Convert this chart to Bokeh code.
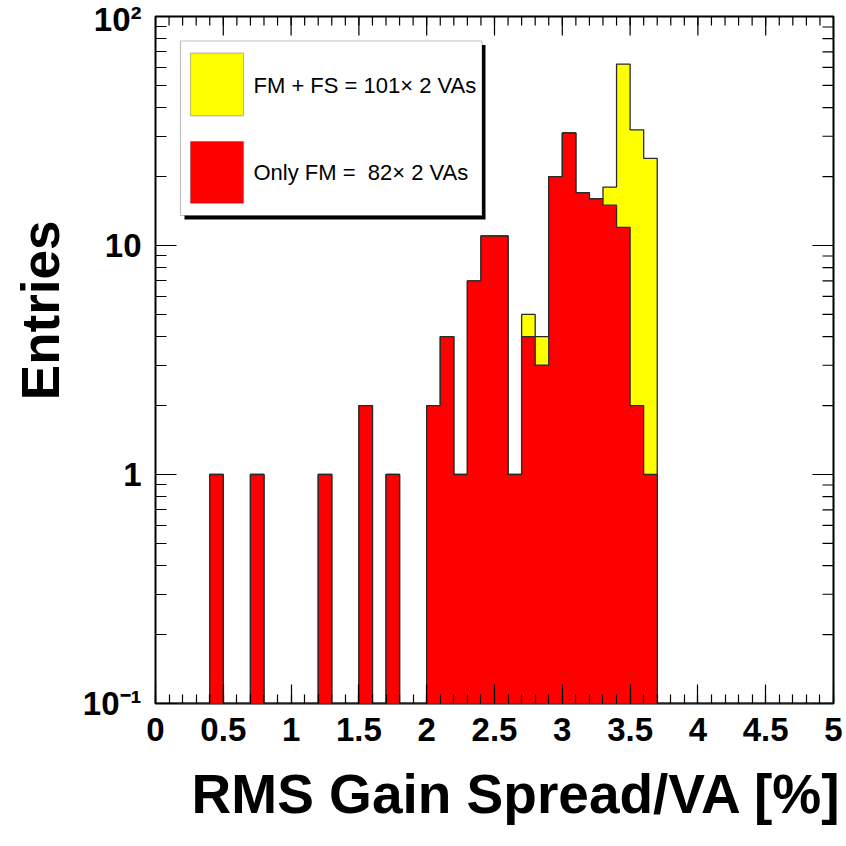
import math
from bokeh.plotting import figure
from bokeh.models import (FixedTicker, Range1d, Label, BoxAnnotation, CustomJSTickFormatter, Title)
from bokeh.embed import file_html
from bokeh.resources import INLINE

# ---------------- data ----------------
x_min, x_max = 0.0, 5.0
y_min, y_max = 0.1, 100.0
bin_width = 0.1
n_bins = 50

# Only FM (red), per 0.1-wide bin starting at 0.0
only_fm = [0, 0, 0, 0, 1, 0, 0, 1, 0, 0,
           0, 0, 1, 0, 0, 2, 0, 1, 0, 0,
           2, 4, 1, 7, 11, 11, 1, 4, 3, 20,
           31, 17, 16, 15, 12, 2, 1, 0, 0, 0,
           0, 0, 0, 0, 0, 0, 0, 0, 0, 0]
# FM + FS (yellow)
fm_fs = [0, 0, 0, 0, 1, 0, 0, 1, 0, 0,
         0, 0, 1, 0, 0, 2, 0, 1, 0, 0,
         2, 4, 1, 7, 11, 11, 1, 5, 4, 20,
         31, 17, 16, 18, 62, 32, 24, 0, 0, 0,
         0, 0, 0, 0, 0, 0, 0, 0, 0, 0]

x_tick_values = [0, 0.5, 1, 1.5, 2, 2.5, 3, 3.5, 4, 4.5, 5]
x_tick_labels = ["0", "0.5", "1", "1.5", "2", "2.5", "3", "3.5", "4", "4.5", "5"]
x_minor_values = [round(i * 0.1, 1) for i in range(51)]
y_tick_values = [0.1, 1, 10, 100]
y_tick_labels = ["10\u207b\u00b9", "1", "10", "10\u00b2"]
y_minor_values = [m * d for d in (0.1, 1, 10) for m in range(2, 10)]

legend_labels = ["FM + FS = 101\u00d7 2 VAs", "Only FM = \u00a082\u00d7 2 VAs"]
x_title = "RMS Gain Spread/VA [%]"
y_title = "Entries"

FONT = "Liberation Sans"
OUT_COL = "#2a2a2a"

# ---------------- layout helpers (reference pixel -> data) ----------------
FX0, FX1, FY0, FY1 = 155, 833, 16, 703
W = H = 846


def dx(px):
    return x_min + (px - FX0) / (FX1 - FX0) * (x_max - x_min)


def dy(py):
    lo, hi = math.log10(y_min), math.log10(y_max)
    return 10 ** (hi - (py - FY0) / (FY1 - FY0) * (hi - lo))


p = figure(frame_width=FX1 - FX0, frame_height=FY1 - FY0,
           x_range=Range1d(x_min, x_max), y_range=Range1d(y_min, y_max),
           y_axis_type="log", output_backend="svg", toolbar_location=None,
           min_border_left=FX0, min_border_top=FY0,
           min_border_right=W - FX1, min_border_bottom=H - FY1)
p.background_fill_color = "white"
p.border_fill_color = "white"
p.xgrid.visible = False
p.ygrid.visible = False
p.outline_line_color = "black"
p.outline_line_width = 2

edges = [x_min + i * bin_width for i in range(n_bins + 1)]


def step_path(counts):
    xs, ys = [edges[0]], [y_min]
    for i, c in enumerate(counts):
        y = c if c > 0 else y_min
        xs += [edges[i], edges[i + 1]]
        ys += [y, y]
    xs.append(edges[-1])
    ys.append(y_min)
    return xs, ys


for counts, col in ((fm_fs, "#ffff00"), (only_fm, "#ff0000")):
    xs, ys = step_path(counts)
    p.patch(xs, ys, fill_color=col, line_color=None)
    p.line(xs, ys, line_color=OUT_COL, line_width=1.3)


def lookup_fmt(vals, labs):
    return CustomJSTickFormatter(
        args=dict(vals=vals, labs=labs),
        code="const i = vals.findIndex(v => Math.abs(v - tick) <= 1e-9 * Math.max(1, Math.abs(v))); return i >= 0 ? labs[i] : '';")


def style_common(ax, maj, mnr):
    ax.axis_line_color = None
    ax.major_tick_in = maj
    ax.major_tick_out = 0
    ax.minor_tick_in = mnr
    ax.minor_tick_out = 0
    ax.major_tick_line_color = "black"
    ax.minor_tick_line_color = "black"
    ax.major_tick_line_width = 1.2
    ax.minor_tick_line_width = 1.2
    ax.major_label_text_font = FONT
    ax.major_label_text_font_style = "bold"
    ax.major_label_text_font_size = "33px"
    ax.major_label_text_color = "black"


# bottom axis
ax = p.xaxis[0]
ax.ticker = FixedTicker(ticks=x_tick_values, minor_ticks=x_minor_values)
ax.formatter = lookup_fmt(x_tick_values, x_tick_labels)
style_common(ax, 19, 9)
ax.major_label_standoff = 14

# left axis
ay = p.yaxis[0]
ay.ticker = FixedTicker(ticks=y_tick_values, minor_ticks=y_minor_values)
ay.formatter = lookup_fmt(y_tick_values, y_tick_labels)
style_common(ay, 21, 11)
ay.major_label_standoff = 14

# ---------------- ticks on top and right (drawn from tick values) ----------------
top_major_y = dy(FY0 + 19)
top_minor_y = dy(FY0 + 9)
p.segment(x0=x_tick_values, y0=[y_max] * len(x_tick_values),
          x1=x_tick_values, y1=[top_major_y] * len(x_tick_values),
          line_color="black", line_width=1.2)
p.segment(x0=x_minor_values, y0=[y_max] * len(x_minor_values),
          x1=x_minor_values, y1=[top_minor_y] * len(x_minor_values),
          line_color="black", line_width=1.2)
maj_x = dx(FX1 - 21)
min_x = dx(FX1 - 11)
p.segment(x0=[x_max] * len(y_tick_values), y0=y_tick_values,
          x1=[maj_x] * len(y_tick_values), y1=y_tick_values,
          line_color="black", line_width=1.2)
p.segment(x0=[x_max] * len(y_minor_values), y0=y_minor_values,
          x1=[min_x] * len(y_minor_values), y1=y_minor_values,
          line_color="black", line_width=1.2)

# ---------------- axis titles ----------------
p.add_layout(Title(text=x_title, align="right", vertical_align="bottom",
                   text_font=FONT, text_font_style="bold", text_font_size="55px",
                   text_color="black", standoff=34, offset=-8), "below")
p.add_layout(Title(text=y_title, align="right", vertical_align="top",
                   text_font=FONT, text_font_style="bold", text_font_size="53px",
                   text_color="black", standoff=16, offset=204), "left")

# ---------------- legend ----------------
p.add_layout(BoxAnnotation(left=dx(184), right=dx(485), top=dy(44.5), bottom=dy(219),
                           fill_color="black", fill_alpha=1, line_color=None))
p.add_layout(BoxAnnotation(left=dx(180), right=dx(481.5), top=dy(40.5), bottom=dy(215),
                           fill_color="white", fill_alpha=1, line_color="#333333",
                           line_width=1.2))
swatches = [("#ffff00", 52.7, 115.3, 85), ("#ff0000", 141, 202.7, 171.7)]
for (col, t, b, cy), lab in zip(swatches, legend_labels):
    p.add_layout(BoxAnnotation(left=dx(190), right=dx(243), top=dy(t), bottom=dy(b),
                               fill_color=col, fill_alpha=1, line_color="#333333",
                               line_width=1.2))
    p.add_layout(Label(x=dx(253), y=dy(cy), text=lab, text_align="left",
                       text_baseline="middle", text_font=FONT,
                       text_font_size="22px", text_color="black"))

open("out.html", "w").write(file_html(p, INLINE))
